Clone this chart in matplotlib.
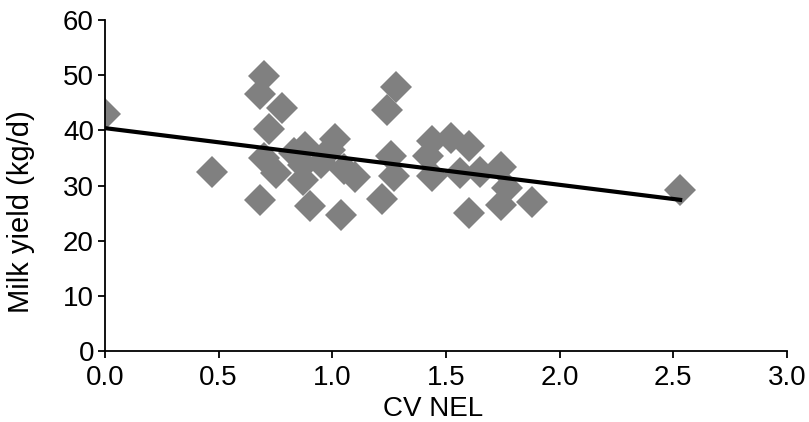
import numpy as np
import matplotlib.pyplot as plt

plt.rcParams['font.family'] = ['Liberation Sans', 'DejaVu Sans']

# CV NEL vs milk yield
cv_nel = [0.00, 0.47, 0.70, 0.68, 0.78, 0.72, 0.70, 0.75, 0.68,
          0.88, 0.87, 0.87, 0.90, 0.83, 0.95, 0.99, 1.01, 1.04, 1.10,
          1.05, 1.28, 1.24, 1.26, 1.27, 1.22, 1.44, 1.52, 1.60, 1.42,
          1.44, 1.56, 1.65, 1.74, 1.77, 1.74, 1.88, 1.60, 2.53]
milk_yield = [43.0, 32.4, 49.8, 46.5, 44.0, 40.3, 35.0, 32.3, 27.4,
              37.0, 33.7, 31.0, 26.2, 35.9, 34.0, 36.4, 38.5, 24.7, 31.5,
              33.0, 47.9, 43.7, 35.3, 31.7, 27.5, 38.1, 38.7, 37.2, 35.3,
              31.8, 32.3, 32.4, 33.3, 29.6, 26.5, 27.0, 25.0, 29.2]

# linear trend line end points
trend_x = [0.0, 2.53]
trend_y = [40.4, 27.4]

fig = plt.figure(figsize=(8.09, 4.22), dpi=100)
ax = fig.add_axes([105/809, 71/422, 682/809, 331/422])

ax.plot(cv_nel, milk_yield, linestyle='none', marker='D', markersize=16.5,
        color='#808080', markeredgewidth=0)
ax.plot(trend_x, trend_y, color='black', linewidth=3)

ax.set_xlim(0, 3.0)
ax.set_ylim(0, 60)
ax.set_xticks(np.arange(0, 3.01, 0.5))
ax.set_xticklabels([f'{v:.1f}' for v in np.arange(0, 3.01, 0.5)])
ax.set_yticks(range(0, 61, 10))

for s in ['top', 'right']:
    ax.spines[s].set_visible(False)
for s in ['left', 'bottom']:
    ax.spines[s].set_linewidth(1.3)
ax.tick_params(direction='out', length=5, width=1.3, labelsize=20)
ax.tick_params(axis='x', pad=5)
ax.tick_params(axis='y', pad=3)

ax.set_xlabel('CV NEL', fontsize=20)
ax.set_ylabel('Milk yield (kg/d)', fontsize=21)
ax.xaxis.set_label_coords(0.481, -0.135)
ax.yaxis.set_label_coords(-0.103, 0.42)

fig.savefig('out.png', dpi=100)
